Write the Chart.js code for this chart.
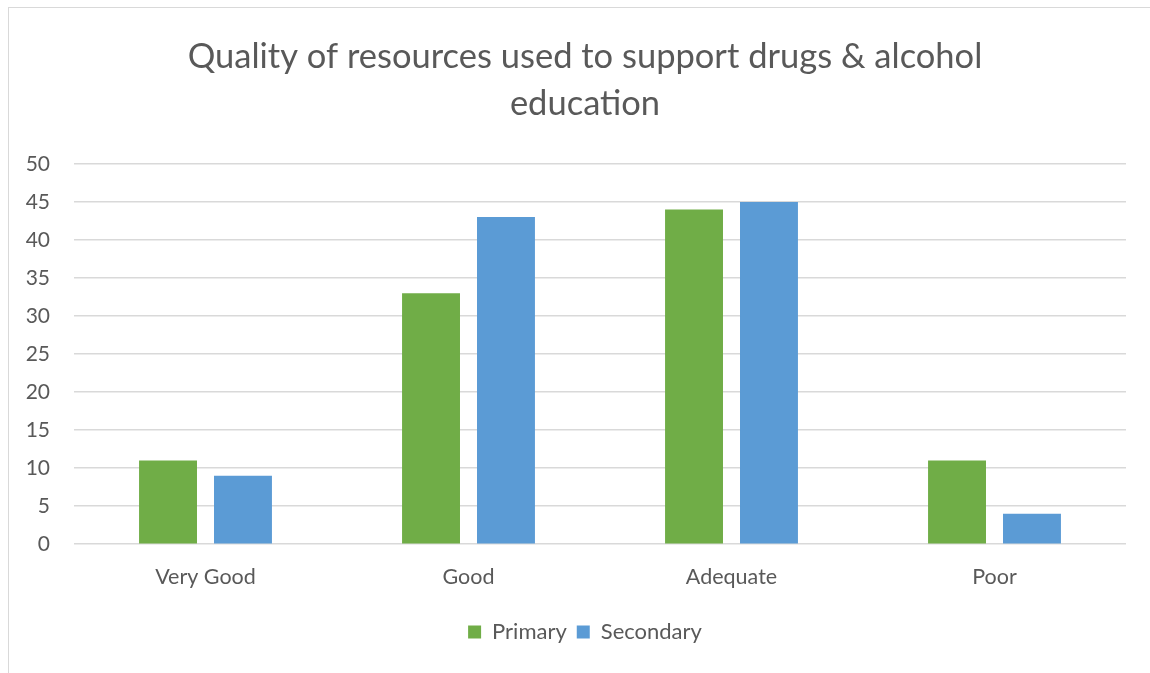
<!DOCTYPE html>
<html>
<head>
<meta charset="utf-8">
<script src="https://cdn.jsdelivr.net/npm/chart.js@4.4.1/dist/chart.umd.min.js"></script>
<style>
    html, body { margin: 0; padding: 0; background: #fff; overflow: hidden; }
    #frame {
        position: absolute;
        left: 8px;
        top: 7px;
        width: 1160px;
        height: 690px;
        border: 1px solid #d9d9d9;
        box-sizing: border-box;
    }
    #wrap {
        position: absolute;
        left: 1px;
        top: 1px;
        width: 1150px;
        height: 670px;
    }
</style>
</head>
<body>
<div id="frame">
    <div id="wrap"><canvas id="chart"></canvas></div>
</div>
<script>
const categories = ["Very Good", "Good", "Adequate", "Poor"];
const primary = [11, 33, 44, 11];
const secondary = [9, 43, 45, 4];
const yTicks = [0, 5, 10, 15, 20, 25, 30, 35, 40, 45, 50];

const textGray = "#595959";
const fontFamily = "Lato, 'Liberation Sans', sans-serif";

const ctx = document.getElementById("chart").getContext("2d");

new Chart(ctx, {
    type: "bar",
    data: {
        labels: categories,
        datasets: [
            {
                label: "Primary",
                data: primary,
                backgroundColor: "#70ad47",
                categoryPercentage: 0.57,
                barPercentage: 0.773
            },
            {
                label: "Secondary",
                data: secondary,
                backgroundColor: "#5b9bd5",
                categoryPercentage: 0.57,
                barPercentage: 0.773
            }
        ]
    },
    options: {
        responsive: true,
        maintainAspectRatio: false,
        animation: false,
        layout: {
            padding: { left: 0, right: 0, top: 0, bottom: 26 }
        },
        plugins: {
            title: {
                display: true,
                text: ["Quality of resources used to support drugs & alcohol", "education"],
                color: textGray,
                font: { size: 34.5, family: fontFamily, weight: "normal", lineHeight: 1.36 },
                padding: { top: 24, bottom: 37 }
            },
            legend: {
                position: "bottom",
                labels: {
                    color: textGray,
                    font: { size: 22, family: fontFamily },
                    boxWidth: 13,
                    boxHeight: 13,
                    padding: 10
                }
            },
            tooltip: { enabled: false }
        },
        scales: {
            x: {
                grid: { display: false },
                border: { display: false },
                afterFit: (scale) => { scale.height += 9; },
                ticks: {
                    color: textGray,
                    font: { size: 21.5, family: fontFamily },
                    padding: 12
                }
            },
            y: {
                min: 0,
                max: 50,
                afterFit: (scale) => { scale.width = 64; },
                afterBuildTicks: (scale) => {
                    scale.ticks = yTicks.map(v => ({ value: v }));
                },
                grid: { color: "#d9d9d9", lineWidth: 1.5, drawTicks: false },
                border: { display: false },
                ticks: {
                    color: textGray,
                    font: { size: 21, family: fontFamily },
                    padding: 24
                }
            },
            // empty strip on the right so the plot ends before the frame edge
            yRight: {
                position: "right",
                afterFit: (scale) => { scale.width = 34; },
                grid: { display: false },
                border: { display: false },
                ticks: { display: false }
            }
        }
    }
});
</script>
</body>
</html>
